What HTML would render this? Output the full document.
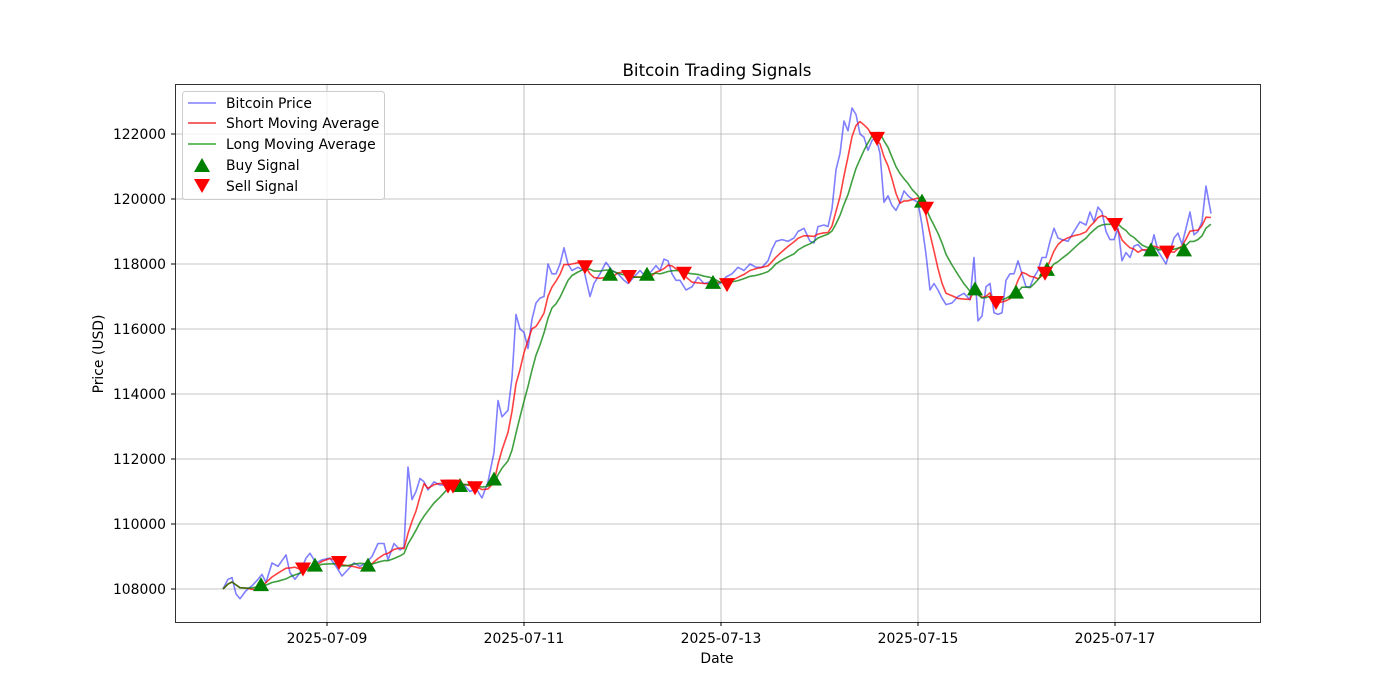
<!DOCTYPE html>
<html><head><meta charset="utf-8"><style>body{margin:0;background:#fff}svg{display:block;font-family:"DejaVu Sans","Liberation Sans",sans-serif}</style></head>
<body>
<svg id="s" width="1400" height="700" xmlns="http://www.w3.org/2000/svg">
<rect width="1400" height="700" fill="#fff"/>
<g id="grid" stroke="#b0b0b0" stroke-width="0.8"></g>
<g id="lines" fill="none" stroke-width="1.6" stroke-linejoin="round"></g>
<g id="marks"></g>
<rect x="175.5" y="84.5" width="1085" height="538" fill="none" stroke="#000" stroke-width="0.8"/>
<g id="ticks" font-size="13.9" fill="#000"></g>
<text x="717" y="76" font-size="16.7" text-anchor="middle">Bitcoin Trading Signals</text>
<text x="717" y="663" font-size="13.9" text-anchor="middle">Date</text>
<text transform="translate(103,354) rotate(-90)" font-size="13.9" text-anchor="middle">Price (USD)</text>
<g font-size="13.9">
<rect x="182.5" y="91.5" width="202" height="108" rx="3" fill="#fff" fill-opacity="0.8" stroke="#ccc"/>
<line x1="188" y1="103" x2="216" y2="103" stroke="#7f7fff" stroke-width="1.5"/><text x="226" y="108">Bitcoin Price</text>
<line x1="188" y1="123" x2="216" y2="123" stroke="#e33" stroke-width="1.5"/><text x="226" y="128">Short Moving Average</text>
<line x1="188" y1="144" x2="216" y2="144" stroke="#3a3" stroke-width="1.5"/><text x="226" y="149">Long Moving Average</text>
<polygon points="202,158 194,172 210,172" fill="green"/><text x="226" y="170">Buy Signal</text>
<polygon points="202,193 194,179 210,179" fill="red"/><text x="226" y="191">Sell Signal</text>
</g>
</svg>
<script>
var NS="http://www.w3.org/2000/svg";
function Y(v){return 589-(v-108000)*0.0325;}
function el(p,t,a){var e=document.createElementNS(NS,t);for(var k in a)e.setAttribute(k,a[k]);p.appendChild(e);return e;}
var g=document.getElementById('grid'),tk=document.getElementById('ticks');
for(var v=108000;v<=122000;v+=2000){var y=Y(v);el(g,'line',{x1:175,x2:1260,y1:y,y2:y});el(tk,'line',{x1:171,x2:175,y1:y,y2:y,stroke:'#000'});var t=el(tk,'text',{x:166,y:y+5,'text-anchor':'end'});t.textContent=v;}
var xs=[327,524,721,918,1115],ls=['2025-07-09','2025-07-11','2025-07-13','2025-07-15','2025-07-17'];
xs.forEach(function(x,i){el(g,'line',{x1:x,x2:x,y1:85,y2:622});el(tk,'line',{x1:x,x2:x,y1:622,y2:626,stroke:'#000'});var t=el(tk,'text',{x:x,y:643,'text-anchor':'middle'});t.textContent=ls[i];});
var d=[223,108000,228,108300,232,108350,236,107850,240,107700,246,107950,252,108100,258,108300,262,108450,266,108200,272,108800,278,108700,286,109050,290,108500,295,108300,300,108500,306,108950,310,109100,316,108800,322,108900,330,108950,336,108700,342,108400,348,108600,354,108800,360,108700,366,108800,372,109000,378,109400,384,109400,388,108900,394,109400,400,109200,404,109300,408,111750,412,110750,416,111000,420,111400,424,111300,428,111050,434,111300,440,111200,446,111200,452,111300,458,111200,464,111200,470,111000,476,111100,482,110800,488,111300,494,112200,498,113800,502,113300,508,113500,512,114500,516,116450,520,116000,524,115900,528,115400,532,116300,536,116800,540,116950,544,117000,548,118000,552,117700,556,117700,560,118000,564,118500,568,118000,572,117800,578,117900,584,117800,590,117000,594,117400,600,117700,606,118050,612,117800,618,117700,624,117500,628,117400,634,117600,640,117800,646,117600,652,117800,656,117950,660,117800,664,118150,668,118100,672,117700,676,117500,680,117500,686,117200,692,117300,698,117600,704,117400,710,117450,716,117350,720,117400,726,117600,732,117700,738,117900,744,117800,750,118000,756,117900,762,117900,768,118100,772,118450,776,118700,782,118750,788,118700,794,118800,798,119000,804,119100,810,118700,814,118650,818,119150,824,119200,828,119150,832,119700,836,120900,840,121400,844,122400,848,122100,852,122800,856,122600,860,122000,864,121900,868,121500,872,121800,876,121900,880,121400,884,119900,888,120100,892,119800,896,119650,900,119900,904,120250,908,120100,912,120000,918,119900,922,119200,926,118300,930,117200,934,117400,938,117200,942,116950,946,116750,952,116800,958,117000,964,117100,970,116900,974,118200,978,116250,982,116400,986,117300,990,117400,994,116500,998,116450,1002,116500,1006,117500,1010,117700,1014,117700,1018,118100,1022,117700,1026,117300,1030,117300,1034,117600,1038,117800,1042,118200,1046,118200,1050,118700,1054,119100,1058,118800,1062,118750,1068,118700,1074,119000,1080,119300,1086,119200,1090,119600,1094,119300,1098,119750,1102,119600,1106,119000,1110,118750,1114,118750,1118,119100,1122,118100,1126,118350,1130,118200,1134,118550,1138,118600,1142,118450,1146,118400,1150,118400,1154,118900,1158,118400,1162,118200,1166,118000,1170,118400,1174,118800,1178,118950,1182,118600,1186,119100,1190,119600,1194,118900,1198,119000,1202,119300,1206,120400,1211,119550];
var X=[],P=[];for(var i=0;i<d.length;i+=2){X.push(d[i]);P.push(d[i+1]);}
function ma(w){return P.map(function(_,i){var s=0,n=0;for(var j=Math.max(0,i-w+1);j<=i;j++){s+=P[j];n++;}return s/n;});}
function path(arr,c,o){var s=arr.map(function(v,i){return (i?'L':'M')+X[i]+','+Y(v).toFixed(1);}).join('');el(document.getElementById('lines'),'path',{d:s,stroke:c,'stroke-opacity':o});}
path(P,'blue',0.5);path(ma(5),'red',0.75);path(ma(10),'green',0.75);
var m=document.getElementById('marks');
var buy=[[261,108150],[315,108750],[368,108750],[460,111200],[494,111400],[610,117700],[647,117700],[713,117450],[922,119950],[975,117250],[1016,117150],[1047,117850],[1151,118450],[1184,118450]];
var sell=[[303,108600],[339,108800],[448,111150],[453,111150],[475,111100],[585,117900],[629,117600],[684,117700],[727,117350],[877,121850],[926,119700],[996,116800],[1045,117700],[1115,119200],[1167,118350]];
buy.forEach(function(b){var y=Y(b[1]);el(m,'polygon',{points:b[0]+','+(y-7)+' '+(b[0]-8)+','+(y+7)+' '+(b[0]+8)+','+(y+7),fill:'green'});});
sell.forEach(function(b){var y=Y(b[1]);el(m,'polygon',{points:b[0]+','+(y+7)+' '+(b[0]-8)+','+(y-7)+' '+(b[0]+8)+','+(y-7),fill:'red'});});
</script>
</body></html>
